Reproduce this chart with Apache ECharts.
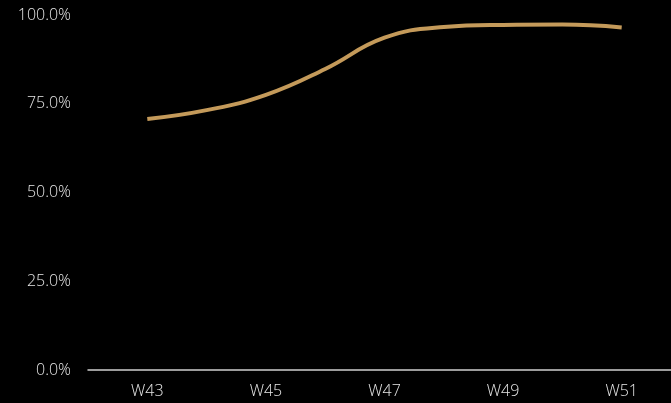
<!DOCTYPE html>
<html>
<head>
<meta charset="utf-8">
<script src="https://cdn.jsdelivr.net/npm/echarts@6/dist/echarts.min.js"></script>
<style>
  html, body { margin: 0; padding: 0; background: #000; }
  #chart { width: 671px; height: 403px; }
</style>
</head>
<body>
<div id="chart"></div>
<script>
// weeks shown on the axis; W42 / W52 only pad the ends (no value)
const weeks = ["W42", "W43", "W44", "W45", "W46", "W47", "W48", "W49", "W50", "W51", "W52"];
const rate = [null, 70.7, 73.2, 77.5, 84.8, 93.6, 96.6, 97.2, 97.3, 96.5, null];
const yTicks = [0, 25, 50, 75, 100];

const chart = echarts.init(document.getElementById("chart"));

const labelFont = {
  color: "#e6e6e6",
  fontFamily: "Open Sans",
  fontWeight: 300,
  fontSize: 16,
};

const option = {
  backgroundColor: "#000",
  animation: false,
  grid: {
    left: 88,
    top: 15,
    bottom: 33,
    width: 593,
    outerBoundsMode: "none",
    containLabel: false,
  },
  xAxis: {
    type: "category",
    data: weeks,
    boundaryGap: false,
    axisLine: { lineStyle: { color: "#d0d0d0", width: 1.5 } },
    axisTick: { show: false },
    axisLabel: {
      ...labelFont,
      interval: (i) => i % 2 === 1,
      margin: 13,
    },
  },
  yAxis: {
    type: "value",
    min: yTicks[0],
    max: yTicks[yTicks.length - 1],
    interval: 25,
    axisLine: { show: false },
    axisTick: { show: false },
    splitLine: { show: false },
    axisLabel: {
      ...labelFont,
      margin: 17,
      formatter: (v) => v.toFixed(1) + "%",
    },
  },
  series: [
    {
      type: "line",
      data: rate,
      smooth: 0.45,
      showSymbol: false,
      lineStyle: { color: "#c49a5a", width: 4 },
    },
  ],
};

chart.setOption(option);
</script>
</body>
</html>
